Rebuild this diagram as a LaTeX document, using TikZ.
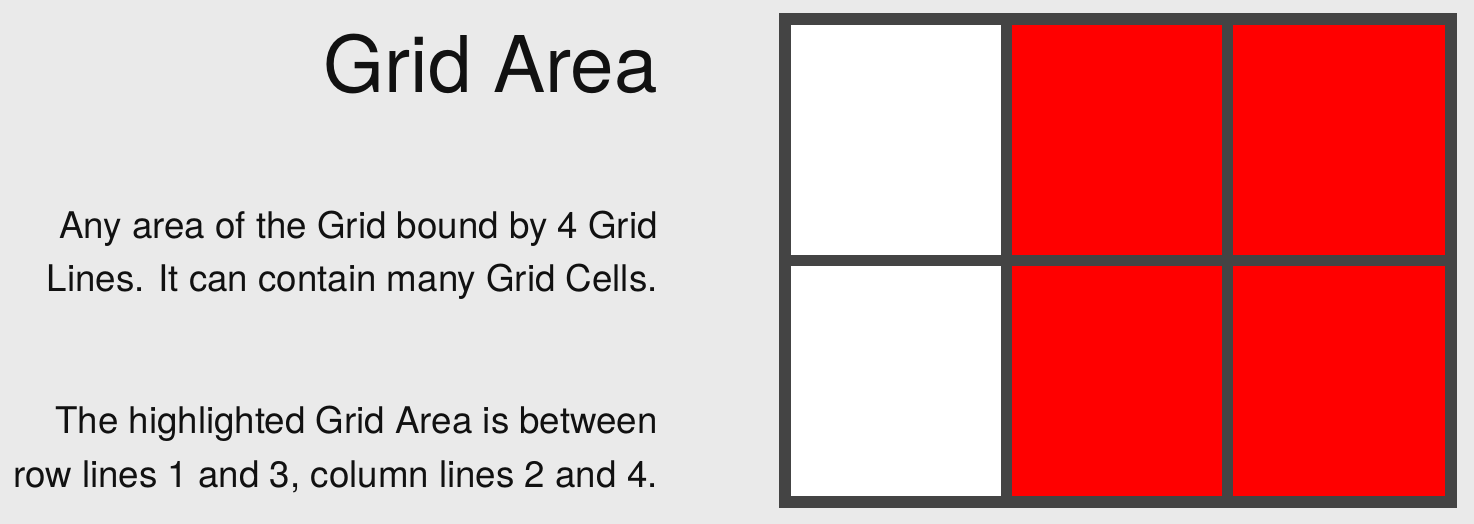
\documentclass[tikz,border=0pt]{standalone}
\usepackage{fontspec}
\setmainfont{TeX Gyre Heros}
\usetikzlibrary{positioning}
\definecolor{PageGray}{HTML}{EAEAEA}
\definecolor{FrameGray}{HTML}{444444}
\definecolor{AreaRed}{HTML}{FF0000}
\definecolor{InkBlack}{HTML}{111111}
\tikzset{
  title/.style = {anchor=base east, inner sep=0pt, text=InkBlack,
                  font=\fontsize{44.5}{50}\selectfont},
  para/.style  = {anchor=base east, inner sep=0pt, align=right, text=InkBlack,
                  font=\fontsize{20.9}{30}\selectfont},
  cell/.style  = {draw=none, inner sep=0pt, minimum width=210*0.02cm,
                  minimum height=230*0.02cm, anchor=north west}
}
\begin{document}
\begin{tikzpicture}[x=0.02cm, y=-0.02cm]
\fill[PageGray] (0,0) rectangle (1474,524);
\useasboundingbox (0,0) rectangle (1474,524);
% text column
\node[title] (head) at (658,92) {Grid Area};
\node[para] (lineA) at (658,238) {Any area of the Grid bound by 4 Grid};
\node[para] (lineB) at (658,291) {Lines. It can contain many Grid Cells.};
\node[para] (lineC) at (658,433) {The highlighted Grid Area is between};
\node[para] (lineD) at (658,487) {row lines 1 and 3, column lines 2 and 4.};
% grid
\fill[FrameGray] (779,13) rectangle (1457,508);
\foreach \col/\x/\w in {1/791/210, 2/1012/210, 3/1233/212}{
  \foreach \row/\y in {1/25, 2/266}{
    \ifnum\col=1
      \node[cell, fill=white, minimum width=\w*0.02cm] (c\row\col) at (\x,\y) {};
    \else
      \node[cell, fill=AreaRed, minimum width=\w*0.02cm] (c\row\col) at (\x,\y) {};
    \fi
  }
}
\end{tikzpicture}
\end{document}
